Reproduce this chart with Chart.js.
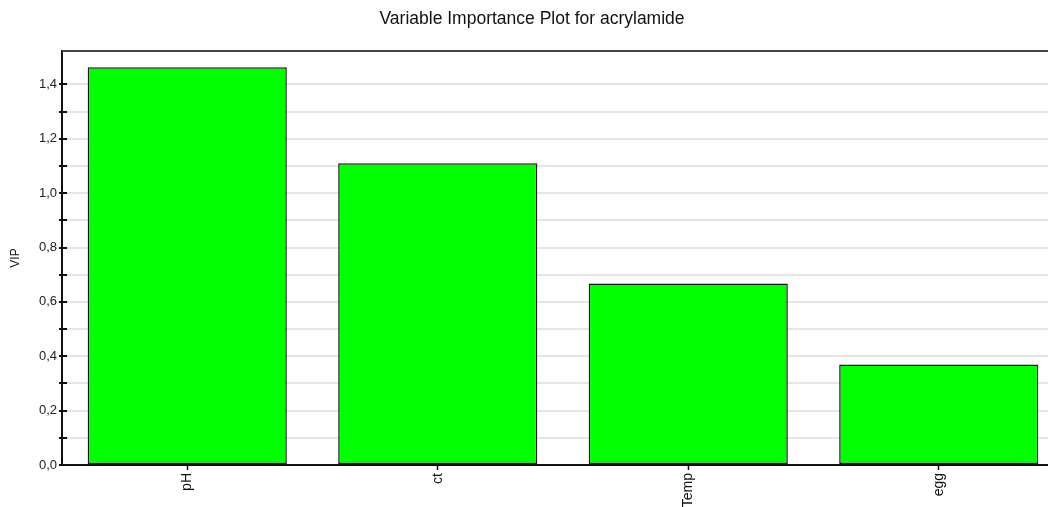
<!DOCTYPE html>
<html>
<head>
<meta charset="utf-8">
<script src="https://cdn.jsdelivr.net/npm/chart.js@4/dist/chart.umd.min.js"></script>
<style>
  html, body { margin: 0; padding: 0; background: #ffffff; overflow: hidden; }
  #wrap { width: 1072px; height: 507px; }
</style>
</head>
<body>
<div id="wrap"><canvas id="chart" width="1072" height="507"></canvas></div>
<script>
// Variables and their VIP scores
const variables = ['pH', 'ct', 'Temp', 'egg'];
const vipScores = [1.463, 1.110, 0.668, 0.370];
const yTickStep = 0.1;
const yMax = 1.523;

const FONT = '"Liberation Sans", Arial, sans-serif';

// Formats a number with a decimal comma, e.g. 1,4
function commaLabel(v) {
  return v.toFixed(1).replace('.', ',');
}

// Small marks crossing the value axis at every step, plus a frame line on top
const axisMarks = {
  id: 'axisMarks',
  afterDraw(chart) {
    const ctx = chart.ctx;
    const y = chart.scales.y;
    const area = chart.chartArea;
    ctx.save();
    ctx.strokeStyle = '#444444';
    ctx.lineWidth = 2;
    ctx.beginPath();
    ctx.moveTo(area.left, area.top);
    ctx.lineTo(area.right, area.top);
    ctx.stroke();
    ctx.strokeStyle = '#111111';
    ctx.lineWidth = 2;
    y.ticks.forEach(t => {
      if (t.value > 1.5 + 1e-9) return;
      const py = Math.round(y.getPixelForValue(t.value));
      ctx.beginPath();
      ctx.moveTo(area.left - 3, py);
      ctx.lineTo(area.left + 5, py);
      ctx.stroke();
    });
    ctx.restore();
  }
};

new Chart(document.getElementById('chart'), {
  type: 'bar',
  data: {
    labels: variables,
    datasets: [{
      data: vipScores,
      backgroundColor: '#00ff00',
      borderColor: '#1a1a1a',
      borderWidth: 1.5,
      borderSkipped: false,
      categoryPercentage: 1.0,
      barPercentage: 0.795
    }]
  },
  options: {
    responsive: false,
    devicePixelRatio: 1,
    animation: false,
    layout: { padding: { left: 0, right: 8, top: 0, bottom: 0 } },
    plugins: {
      legend: { display: false },
      tooltip: { enabled: false },
      title: {
        display: true,
        text: 'Variable Importance Plot for acrylamide',
        color: '#111111',
        font: { family: FONT, size: 17.5, weight: 'normal' },
        padding: { top: 9, bottom: 21 }
      }
    },
    scales: {
      x: {
        grid: {
          display: true,
          offset: false,
          drawOnChartArea: false,
          drawTicks: true,
          tickLength: 5,
          tickWidth: 1.5,
          tickColor: '#111111'
        },
        border: { display: true, color: '#111111', width: 2 },
        ticks: {
          minRotation: 90,
          maxRotation: 90,
          padding: 3,
          color: '#111111',
          font: { family: FONT, size: 14 }
        },
        afterFit(scale) { scale.height = 42; }
      },
      y: {
        min: 0,
        max: yMax,
        grid: {
          display: true,
          drawTicks: false,
          color: '#e6e6e6',
          lineWidth: 2
        },
        border: { display: true, color: '#111111', width: 2 },
        ticks: {
          stepSize: yTickStep,
          padding: 5,
          color: '#222222',
          font: { family: FONT, size: 13 },
          callback(v) {
            const k = Math.round(v * 10);
            if (Math.abs(v * 10 - k) > 1e-6) return '';
            return k % 2 === 0 ? commaLabel(v) : '';
          }
        },
        title: {
          display: true,
          text: 'VIP',
          color: '#111111',
          font: { family: FONT, size: 12 },
          padding: { top: 8, bottom: 0 }
        },
        afterFit(scale) { scale.width = 62; }
      }
    }
  },
  plugins: [axisMarks]
});
</script>
</body>
</html>
